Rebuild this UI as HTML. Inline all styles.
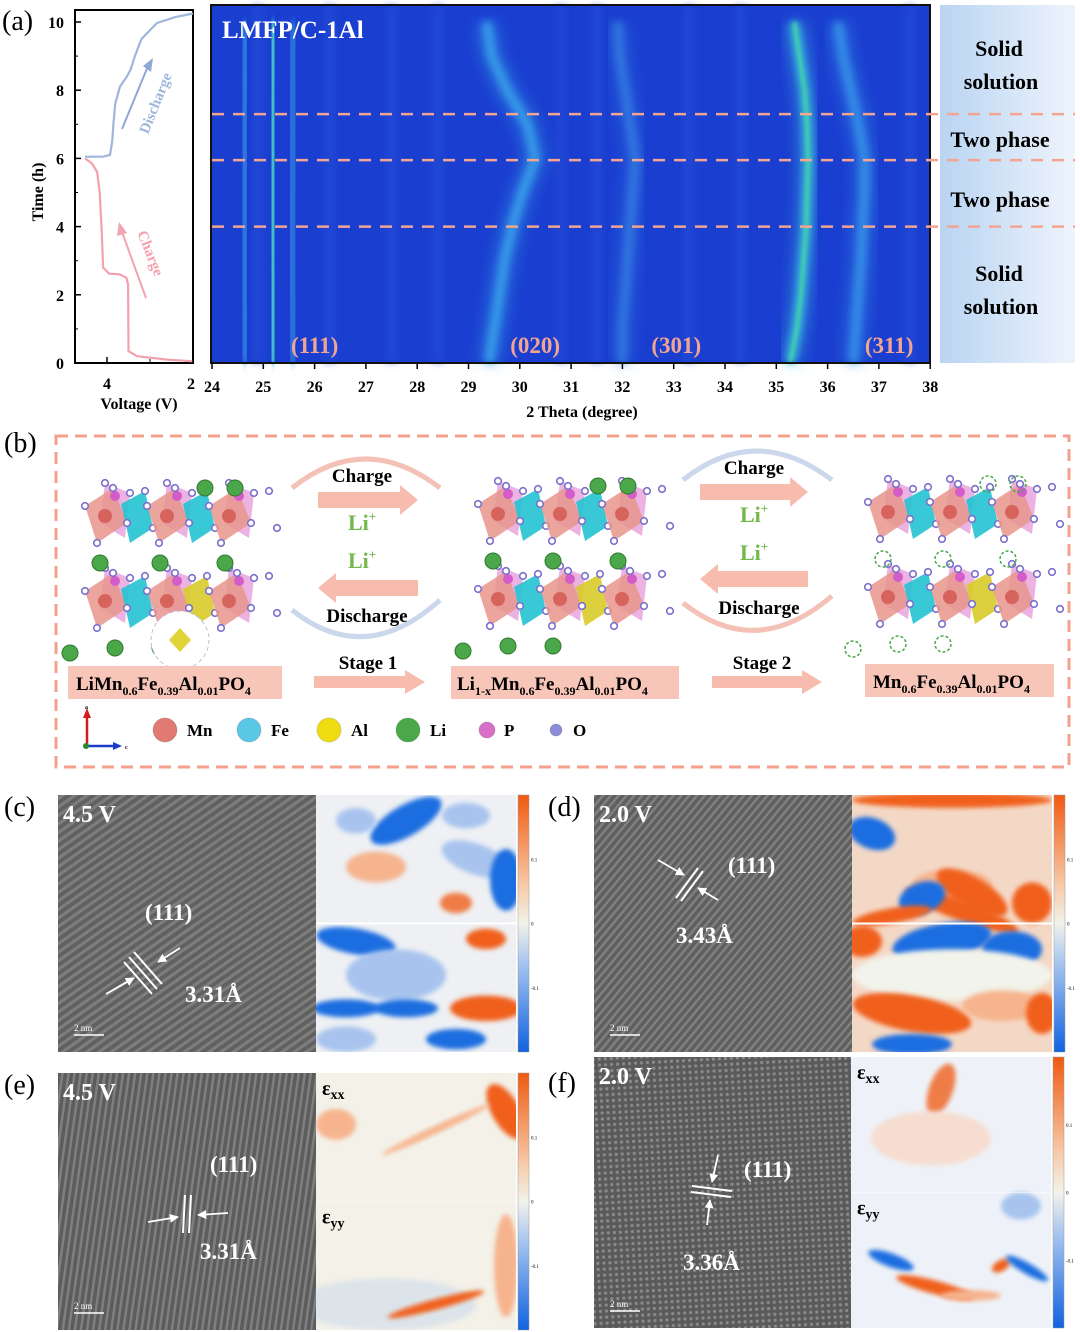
<!DOCTYPE html>
<html><head><meta charset="utf-8">
<style>
html,body{margin:0;padding:0;background:#fff;width:1080px;height:1332px;overflow:hidden}
svg{display:block}
text{font-family:"Liberation Serif",serif;font-weight:bold}
</style></head>
<body>
<svg id="fig" width="1080" height="1332" viewBox="0 0 1080 1332" xmlns="http://www.w3.org/2000/svg">
<defs>
  <filter id="blur3" x="-50%" y="-10%" width="200%" height="120%"><feGaussianBlur stdDeviation="3.5"/></filter>
  <filter id="blur8" x="-50%" y="-10%" width="200%" height="120%"><feGaussianBlur stdDeviation="7"/></filter>
  <filter id="blur1" x="-50%" y="-10%" width="200%" height="120%"><feGaussianBlur stdDeviation="1.5"/></filter>
  <filter id="blur2" x="-30%" y="-30%" width="160%" height="160%"><feGaussianBlur stdDeviation="2.5"/></filter>
  <marker id="ah" viewBox="0 0 10 10" refX="9" refY="5" markerWidth="5" markerHeight="5" orient="auto"><path d="M0,0 L10,5 L0,10 z" fill="#fff"/></marker>
  <linearGradient id="sideGrad" x1="0" x2="1" y1="0" y2="0">
    <stop offset="0" stop-color="#b9d4f2"/><stop offset="1" stop-color="#eef4fc"/>
  </linearGradient>
  <linearGradient id="cbar" x1="0" x2="0" y1="0" y2="1">
    <stop offset="0" stop-color="#f05a10"/><stop offset="0.35" stop-color="#f7c9a8"/><stop offset="0.5" stop-color="#f2f3ea"/><stop offset="0.65" stop-color="#a9c6ef"/><stop offset="1" stop-color="#1062e0"/>
  </linearGradient>
  <pattern id="lat1" width="7" height="7" patternUnits="userSpaceOnUse" patternTransform="rotate(55)">
    <rect width="7" height="7" fill="#616161"/><rect width="3" height="7" fill="#7e7e7e"/>
  </pattern>
  <pattern id="lat2" width="6" height="6" patternUnits="userSpaceOnUse" patternTransform="rotate(40)">
    <rect width="6" height="6" fill="#5f5f5f"/><rect width="2.5" height="6" fill="#808080"/>
  </pattern>
  <pattern id="lat3" width="6" height="6" patternUnits="userSpaceOnUse" patternTransform="rotate(8)">
    <rect width="6" height="6" fill="#5c5c5c"/><rect width="2.5" height="6" fill="#7f7f7f"/>
  </pattern>
  <pattern id="lat4" width="6" height="6" patternUnits="userSpaceOnUse" patternTransform="rotate(-3)">
    <rect width="6" height="6" fill="#5a5a5a"/><circle cx="3" cy="3" r="1.6" fill="#8a8a8a"/>
  </pattern>
</defs>

<!-- ===== Panel (a) ===== -->
<text x="2" y="30" font-size="28" style="font-weight:normal">(a)</text>
<g id="voltplot">
  <rect x="75" y="10" width="118" height="353" fill="#fff" stroke="#000" stroke-width="2"/>
</g>
<text x="43" y="192" font-size="16" transform="rotate(-90 43 192)" text-anchor="middle">Time (h)</text>
<text x="139" y="409" font-size="16" text-anchor="middle">Voltage (V)</text>

<g id="heat">
  <rect x="211" y="5" width="719" height="358" fill="#1a3ed0"/>
</g>
<rect x="211" y="5" width="719" height="358" fill="none" stroke="#111" stroke-width="2"/>
<text x="222" y="38" font-size="25" fill="#fff">LMFP/C-1Al</text>
<text x="582" y="417" font-size="16" text-anchor="middle">2 Theta (degree)</text>

<rect x="940" y="5" width="135" height="358" fill="url(#sideGrad)"/>
<g font-size="22" text-anchor="middle">
  <text x="999" y="56">Solid</text>
  <text x="1001" y="89">solution</text>
  <text x="1000" y="147">Two phase</text>
  <text x="1000" y="207">Two phase</text>
  <text x="999" y="281">Solid</text>
  <text x="1001" y="314">solution</text>
</g>

<!-- ===== Panel (b) ===== -->
<text x="4" y="452" font-size="28" style="font-weight:normal">(b)</text>
<rect x="56" y="436" width="1013" height="331" fill="none" stroke="#f4a08c" stroke-width="3" stroke-dasharray="12 7"/>
<g id="crystals"></g>

<g>
  <path d="M292,488 Q365,430 440,488" fill="none" stroke="#f1b1a4" stroke-width="5" opacity="0.8"/>
  <path d="M292,610 Q365,668 440,600" fill="none" stroke="#c7d3ea" stroke-width="5" opacity="0.9"/>
  <polygon points="318,492 400,492 400,485 418,500 400,515 400,508 318,508" fill="#f7bcae"/>
  <polygon points="418,580 336,580 336,573 318,588 336,603 336,596 418,596" fill="#f7bcae"/>
  <polygon points="314,676 405,676 405,670 425,682 405,694 405,688 314,688" fill="#f7bcae"/>
</g>
<g>
  <path d="M683,480 Q756,422 832,480" fill="none" stroke="#c7d3ea" stroke-width="5" opacity="0.9"/>
  <path d="M683,603 Q756,661 832,596" fill="none" stroke="#f1b1a4" stroke-width="5" opacity="0.8"/>
  <polygon points="700,484 790,484 790,477 808,492 790,507 790,500 700,500" fill="#f7bcae"/>
  <polygon points="808,571 718,571 718,564 700,579 718,594 718,587 808,587" fill="#f7bcae"/>
  <polygon points="712,676 802,676 802,670 822,682 802,694 802,688 712,688" fill="#f7bcae"/>
</g>
<g font-size="19" text-anchor="middle">
  <text x="362" y="482">Charge</text>
  <text x="367" y="622">Discharge</text>
  <text x="368" y="669">Stage 1</text>
  <text x="754" y="474">Charge</text>
  <text x="759" y="614">Discharge</text>
  <text x="762" y="669">Stage 2</text>
</g>
<g font-size="22" fill="#72b84a">
  <text x="348" y="530">Li<tspan font-size="13" dy="-9">+</tspan></text>
  <text x="348" y="568">Li<tspan font-size="13" dy="-9">+</tspan></text>
  <text x="740" y="522">Li<tspan font-size="13" dy="-9">+</tspan></text>
  <text x="740" y="560">Li<tspan font-size="13" dy="-9">+</tspan></text>
</g>
<g font-size="19">
  <rect x="68" y="666" width="214" height="33" fill="#f8c6b8"/>
  <text x="76" y="690">LiMn<tspan font-size="12" dy="5">0.6</tspan><tspan dy="-5">Fe</tspan><tspan font-size="12" dy="5">0.39</tspan><tspan dy="-5">Al</tspan><tspan font-size="12" dy="5">0.01</tspan><tspan dy="-5">PO</tspan><tspan font-size="12" dy="5">4</tspan></text>
  <rect x="451" y="666" width="228" height="33" fill="#f8c6b8"/>
  <text x="457" y="690">Li<tspan font-size="12" dy="5">1-x</tspan><tspan dy="-5">Mn</tspan><tspan font-size="12" dy="5">0.6</tspan><tspan dy="-5">Fe</tspan><tspan font-size="12" dy="5">0.39</tspan><tspan dy="-5">Al</tspan><tspan font-size="12" dy="5">0.01</tspan><tspan dy="-5">PO</tspan><tspan font-size="12" dy="5">4</tspan></text>
  <rect x="865" y="664" width="189" height="33" fill="#f8c6b8"/>
  <text x="873" y="688">Mn<tspan font-size="12" dy="5">0.6</tspan><tspan dy="-5">Fe</tspan><tspan font-size="12" dy="5">0.39</tspan><tspan dy="-5">Al</tspan><tspan font-size="12" dy="5">0.01</tspan><tspan dy="-5">PO</tspan><tspan font-size="12" dy="5">4</tspan></text>
</g>
<g>
  <line x1="87" y1="746" x2="87" y2="715" stroke="#d51b1b" stroke-width="2.5"/><polygon points="83,718 87,708 91,718" fill="#d51b1b"/>
  <line x1="87" y1="746" x2="115" y2="746" stroke="#1a3cc8" stroke-width="2.5"/><polygon points="113,742 122,746 113,750" fill="#1a3cc8"/>
  <circle cx="86" cy="746" r="3" fill="#2a8a2a"/>
  <text x="85" y="709" font-size="6">a</text><text x="125" y="749" font-size="6">c</text>
</g>
<g id="legend" font-size="17"></g>

<!-- ===== Panels c-f ===== -->
<g font-size="28">
  <text x="4" y="816" style="font-weight:normal">(c)</text>
  <text x="548" y="816" style="font-weight:normal">(d)</text>
  <text x="4" y="1094" style="font-weight:normal">(e)</text>
  <text x="548" y="1092" style="font-weight:normal">(f)</text>
</g>
<g id="tem"></g>
</svg>

<script>
const NS='http://www.w3.org/2000/svg';
function mk(tag,attrs,parent){const e=document.createElementNS(NS,tag);for(const k in attrs)e.setAttribute(k,attrs[k]);(parent||document.getElementById('fig')).appendChild(e);return e;}

/* ---------- Voltage-time data ---------- */
const chargeV=[2.0,2.6,3.3,3.5,3.51,3.55,3.7,3.95,4.09,4.12,4.17,4.23,4.35,4.51];
const chargeT=[0.05,0.1,0.2,0.35,2.3,2.5,2.6,2.62,2.8,3.8,5.0,5.6,5.85,6.0];
const dischargeV=[4.51,4.1,3.93,3.88,3.85,3.81,3.7,3.54,3.45,3.35,3.2,2.84,2.4,2.0];
const dischargeT=[6.05,6.05,6.1,6.5,7.0,7.6,8.1,8.4,8.6,9.0,9.5,9.97,10.15,10.25];
const timeTicks=[0,2,4,6,8,10];
const voltTicks=[4,2];
const vx=v=>107+(4-v)*43;
const ty=t=>363-t*34.1;

const vp=document.getElementById('voltplot');
function curve(V,T,color,name){
  const d=V.map((v,i)=>(i?'L':'M')+vx(v).toFixed(1)+','+ty(T[i]).toFixed(1)).join(' ');
  const p=mk('path',{d:d,fill:'none',stroke:color,'stroke-width':2.2,'stroke-linejoin':'round'},vp);
  
  
}
curve(chargeV,chargeT,'#f4a0ad','charge-curve');
curve(dischargeV,dischargeT,'#9fb6dc','discharge-curve');
timeTicks.forEach(t=>{
  mk('line',{x1:75,x2:81,y1:ty(t),y2:ty(t),stroke:'#000','stroke-width':1.5},vp);
  const tx=mk('text',{x:64,y:ty(t)+6,'font-size':16,'text-anchor':'end'},vp);
  tx.textContent=t;
  
  
});
[1,3,5,7,9].forEach(t=>mk('line',{x1:75,x2:78,y1:ty(t),y2:ty(t),stroke:'#000','stroke-width':1},vp));
voltTicks.forEach(v=>{
  mk('line',{x1:vx(v),x2:vx(v),y1:363,y2:357,stroke:'#000','stroke-width':1.5},vp);
  const tx=mk('text',{x:vx(v)-(v===2?2:0),y:389,'font-size':16,'text-anchor':'middle'},vp);
  tx.textContent=v;
  
  
});
[3].forEach(v=>mk('line',{x1:vx(v),x2:vx(v),y1:363,y2:359,stroke:'#000','stroke-width':1},vp));
mk('line',{x1:122,y1:129,x2:148,y2:66,stroke:'#8ea7d4','stroke-width':2},vp);
mk('polygon',{points:'143,66 153,58 151,72',fill:'#8ea7d4'},vp);
mk('line',{x1:146,y1:298,x2:122,y2:232,stroke:'#f2a3b0','stroke-width':2},vp);
mk('polygon',{points:'117,236 119,222 127,233',fill:'#f2a3b0'},vp);
let at=mk('text',{x:160,y:105,'font-size':15,fill:'#9fb6dc',transform:'rotate(-68 160 105)','text-anchor':'middle'},vp);at.textContent='Discharge';


at=mk('text',{x:146,y:255,'font-size':15,fill:'#f4a0ad',transform:'rotate(68 146 255)','text-anchor':'middle'},vp);at.textContent='Charge';



/* ---------- XRD heatmap data ---------- */
const peakTimes=[0,1,2,3,4,5,6,7,8,9,10];
const peak111a=[24.65,24.65,24.63,24.62,24.62,24.62,24.63,24.63,24.64,24.65,24.66];
const peak111=[25.2,25.2,25.2,25.19,25.18,25.18,25.18,25.18,25.19,25.2,25.2];
const peak111b=[25.58,25.58,25.56,25.55,25.55,25.56,25.56,25.57,25.57,25.58,25.6];
const peak020=[29.4,29.5,29.6,29.7,29.85,30.05,30.3,30.15,29.75,29.45,29.35];
const peak301=[32.0,32.0,32.05,32.1,32.15,32.2,32.25,32.15,32.05,31.95,31.9];
const peak311a=[35.27,35.4,35.48,35.53,35.58,35.6,35.62,35.6,35.55,35.45,35.35];
const peak311line=[35.65,35.65,35.65,35.65,35.65,35.65,35.65,35.65,35.65,35.65,35.65];
const peak311=[36.5,36.55,36.6,36.65,36.68,36.72,36.72,36.6,36.45,36.3,36.2];
const thetaTicks=[24,25,26,27,28,29,30,31,32,33,34,35,36,37,38];
const phaseBoundaries=[4.0,5.95,7.3];
const hx=th=>212+(th-24)*51.3;
const hy=t=>363-t*34.1;
const hm=document.getElementById('heat');
[24.9,26.3,27.5,28.4,30.8,31.5,33.3,34.3,37.6].forEach(th=>{
  mk('rect',{x:hx(th)-6,y:5,width:12,height:358,fill:'#2650da',opacity:0.5,filter:'url(#blur3)'},hm);
});
function peak(arr,color,w,op,name,core){
  const d=arr.map((v,i)=>(i?'L':'M')+hx(v).toFixed(1)+','+Math.max(5,hy(peakTimes[i])).toFixed(1)).join(' ');
  mk('path',{d:d,fill:'none',stroke:color,'stroke-width':w*2.2,opacity:op*0.45,filter:'url(#blur8)'},hm);
  const p=mk('path',{d:d,fill:'none',stroke:color,'stroke-width':w,opacity:op*0.8,filter:'url(#blur3)'},hm);
  
  
  if(core){mk('path',{d:d,fill:'none',stroke:core,'stroke-width':3,opacity:0.8,filter:'url(#blur1)'},hm);}
}
peak(peak111a,'#3a9ae8',9,0.7,'peak-111-shoulder-left');
peak(peak111,'#3ec4e6',9,1,'peak-111','#4ed8b0');
peak(peak111b,'#3a9ae8',9,0.6,'peak-111-shoulder-right');
peak(peak020,'#3aaaec',10,0.9,'peak-020');
peak(peak301,'#3a8ae6',10,0.7,'peak-301');
peak(peak311a,'#40c8dc',9,1,'peak-311-main','#44e090');
peak(peak311line,'#4fd0b8',4,0.9,'peak-reference-line','#58e08a');
peak(peak311,'#3a9eec',10,0.85,'peak-311');
phaseBoundaries.forEach(t=>{
  const l=mk('line',{x1:212,x2:1075,y1:hy(t),y2:hy(t),stroke:'#f4a592','stroke-width':2.5,'stroke-dasharray':'12 9'});
  
  
});
thetaTicks.forEach(th=>{
  mk('line',{x1:hx(th),x2:hx(th),y1:363,y2:369,stroke:'#000','stroke-width':1.5});
  const tx=mk('text',{x:hx(th),y:392,'font-size':16,'text-anchor':'middle'});
  tx.textContent=th;
  
  
});
const peakLabels=['(111)','(020)','(301)','(311)'];
const peakLabelPos=[26.0,30.3,33.05,37.2];
peakLabels.forEach((s,i)=>{
  const tx=mk('text',{x:hx(peakLabelPos[i]),y:353,'font-size':23,fill:'#f4a592','text-anchor':'middle'});
  tx.textContent=s;
  
  
});

/* ---------- crystal structures ---------- */
const cg=document.getElementById('crystals');
function crystal(ox,oy,withLi,vac,name){
  const g=mk('g',{transform:`translate(${ox},${oy})`},cg);
  
  
  for(let r=0;r<2;r++){
    const y0=r*85;
    for(let c=0;c<3;c++){
      const x0=c*62;
      mk('polygon',{points:`${x0+20},${y0+5} ${x0+45},${y0+15} ${x0+40},${y0+60} ${x0+15},${y0+45}`,fill:'#e69ad8',opacity:0.75},g);
      mk('polygon',{points:`${x0},${y0+28} ${x0+28},${y0+10} ${x0+42},${y0+45} ${x0+12},${y0+65}`,fill:'#e8958c',opacity:0.85},g);
      if(c<2) mk('polygon',{points:`${x0+36},${y0+26} ${x0+60},${y0+13} ${x0+68},${y0+50} ${x0+45},${y0+65}`,fill:(r==1&&c==1)?'#d9cb2a':'#23c2d2',opacity:0.9},g);
      mk('circle',{cx:x0+20,cy:y0+38,r:7,fill:'#d7645c'},g);
      mk('circle',{cx:x0+30,cy:y0+18,r:5,fill:'#d35cc8'},g);
      [[0,28],[28,10],[42,45],[12,65],[20,5],[45,15],[60,13],[68,50]].forEach(p=>mk('circle',{cx:x0+p[0],cy:y0+p[1],r:3.3,fill:'#fff',stroke:'#7a70cc','stroke-width':1.6},g));
    }
  }
  const li=[[-15,175],[30,170],[75,170],[120,10],[150,10],[15,85],[75,85],[140,85]];
  li.forEach(p=>{
    if(withLi) mk('circle',{cx:p[0],cy:p[1],r:8,fill:'#4aa84a',stroke:'#2f7a2f','stroke-width':1},g);
    else if(vac) mk('circle',{cx:p[0],cy:p[1],r:8,fill:'none',stroke:'#4aa84a','stroke-width':1.5,'stroke-dasharray':'3 2'},g);
  });
}
crystal(85,478,true,false,'crystal-lmfp');
crystal(478,476,true,false,'crystal-partially-delithiated');
crystal(868,474,false,true,'crystal-delithiated');
mk('circle',{cx:180,cy:640,r:29,fill:'#fff',stroke:'#b8c0de','stroke-width':1,'stroke-dasharray':'4 3'},cg);
mk('polygon',{points:'180,628 191,640 180,652 169,640',fill:'#e0d43a'},cg);

/* ---------- legend ---------- */
const lg=document.getElementById('legend');
const elements=['Mn','Fe','Al','Li','P','O'];
const elColors=['#e07a72','#5cc8e8','#f0dc10','#4aa84a','#d970c8','#8c8cd8'];
const elSizes=[12,12,12,12,8,6];
const elX=[165,249,329,408,487,556];
elements.forEach((e,i)=>{
  const c=mk('circle',{cx:elX[i],cy:730,r:elSizes[i],fill:elColors[i],stroke:'#0002'},lg);
  
  
  const t=mk('text',{x:elX[i]+(i<4?22:17),y:736},lg);
  t.textContent=e;
  
  
});

/* ---------- TEM + strain panels ---------- */
const tm=document.getElementById('tem');
function panel(o){
  const g=mk('g',{},tm);
  
  
  const img=mk('rect',{x:o.x,y:o.y,width:o.w,height:o.h,fill:`url(#${o.pat})`},g);
  
  
  let t=mk('text',{x:o.x+5,y:o.y+27,'font-size':24,fill:'#fff'},g);t.textContent=o.v;
  
  
  t=mk('text',{x:o.lx,y:o.ly,'font-size':23,fill:'#fff'},g);t.textContent='(111)';
  
  
  t=mk('text',{x:o.dx,y:o.dy,'font-size':23,fill:'#fff'},g);t.textContent=o.d;
  
  
  mk('line',{x1:o.x+16,x2:o.x+46,y1:o.y+o.h-17,y2:o.y+o.h-17,stroke:'#fff','stroke-width':1.5},g);
  t=mk('text',{x:o.x+16,y:o.y+o.h-21,'font-size':9,fill:'#fff',style:'font-weight:normal'},g);t.textContent='2 nm';
  o.marks.forEach(m=>mk('line',{x1:m[0],y1:m[1],x2:m[2],y2:m[3],stroke:'#fff','stroke-width':2},g));
  o.arrows.forEach(a=>{mk('line',{x1:a[0],y1:a[1],x2:a[2],y2:a[3],stroke:'#fff','stroke-width':1.8,'marker-end':'url(#ah)'},g);});
  const sx=o.x+o.w, sw=o.sw;
  const sm=mk('svg',{x:sx,y:o.y,width:sw,height:o.h,viewBox:`0 0 ${sw} ${o.h}`,overflow:'hidden'},g);
  
  
  mk('rect',{width:sw,height:o.h,fill:o.bg},sm);
  o.blobs.forEach(b=>mk('ellipse',{cx:b[0]*sw,cy:b[1]*o.h,rx:b[2]*sw,ry:b[3]*o.h,fill:b[4],transform:`rotate(${b[5]} ${b[0]*sw} ${b[1]*o.h})`,filter:'url(#blur2)',opacity:b[6]||1},sm));
  mk('line',{x1:0,x2:sw,y1:o.h/2,y2:o.h/2,stroke:'#fff','stroke-width':o.sep},sm);
  if(o.eps){
    let e=mk('text',{x:6,y:22,'font-size':20},sm);e.innerHTML='ε<tspan font-size="14" dy="4">xx</tspan>';
    e=mk('text',{x:6,y:o.h/2+22,'font-size':20},sm);e.innerHTML='ε<tspan font-size="14" dy="4">yy</tspan>';
  }
  const cb=mk('rect',{x:sx+sw+2,y:o.y,width:11,height:o.h,fill:'url(#cbar)',stroke:'#999','stroke-width':0.5},g);
  
  
  ['0.1','0','-0.1'].forEach((s,i)=>{const tt=mk('text',{x:sx+sw+15,y:o.y+o.h*(0.25+i*0.25)+2,'font-size':5,style:'font-weight:normal'},g);tt.textContent=s;});
}
const O='#f0601a',B='#1f6ee0',LO='#f6b48e',LB='#a8c4ee';
panel({name:'panel-c',x:58,y:795,w:258,h:257,sw:200,pat:'lat1',v:'4.5 V',lx:145,ly:920,dx:185,dy:1002,d:'3.31Å',
  marks:[[124,962,152,994],[129,957,157,989],[134,952,162,984]],arrows:[[106,994,134,978],[180,948,158,962]],bg:'#eef0f4',sep:2,
  blobs:[[0.45,0.1,0.2,0.06,B,-30],[0.2,0.1,0.1,0.05,LB,0],[0.75,0.08,0.12,0.05,LB,0],[0.3,0.28,0.15,0.06,LO,0],[0.8,0.25,0.18,0.06,LB,20],[0.7,0.42,0.08,0.04,O,0,0.8],[0.95,0.33,0.08,0.12,B,0],[0.2,0.57,0.2,0.05,B,10],[0.85,0.56,0.1,0.04,O,0],[0.4,0.7,0.25,0.1,LB,0],[0.15,0.83,0.17,0.035,B,0],[0.45,0.83,0.16,0.035,B,0],[0.85,0.83,0.18,0.05,O,0],[0.7,0.95,0.15,0.04,B,0],[0.15,0.95,0.15,0.05,LB,0]]});
panel({name:'panel-d',x:594,y:795,w:258,h:257,sw:200,pat:'lat2',v:'2.0 V',lx:728,ly:873,dx:676,dy:943,d:'3.43Å',
  marks:[[676,898,698,868],[681,901,703,871]],arrows:[[658,860,684,875],[718,900,698,888]],bg:'#f4d8c6',sep:2,
  blobs:[[0.5,0.02,0.5,0.03,O,0],[0.1,0.15,0.12,0.06,B,20],[0.5,0.35,0.2,0.06,LO,0],[0.55,0.45,0.3,0.04,O,20],[0.6,0.38,0.2,0.06,O,30],[0.35,0.4,0.12,0.06,B,-20],[0.2,0.47,0.2,0.03,O,-10],[0.9,0.42,0.1,0.08,O,0],[0.45,0.57,0.25,0.07,B,-10],[0.05,0.57,0.1,0.06,O,0],[0.8,0.6,0.15,0.07,B,0],[0.5,0.7,0.5,0.1,'#f2f3ea',0],[0.3,0.85,0.3,0.07,O,10],[0.75,0.82,0.2,0.06,LO,0],[0.95,0.85,0.08,0.08,O,0],[0.3,0.97,0.2,0.04,B,0]]});
panel({name:'panel-e',x:58,y:1073,w:258,h:257,sw:200,pat:'lat3',v:'4.5 V',lx:210,ly:1172,dx:200,dy:1259,d:'3.31Å',
  marks:[[183,1233,185,1195],[189,1233,191,1195]],arrows:[[148,1222,178,1217],[228,1213,198,1215]],bg:'#f3f1e8',sep:0.5,eps:true,
  blobs:[[0.95,0.15,0.07,0.12,O,-30],[0.6,0.22,0.3,0.015,LO,-25],[0.1,0.2,0.1,0.06,LO,0],[0.35,0.9,0.45,0.1,LB,0,0.3],[0.6,0.9,0.25,0.02,O,-15],[0.95,0.75,0.06,0.2,LO,0]]});
panel({name:'panel-f',x:594,y:1057,w:257,h:271,sw:200,pat:'lat4',v:'2.0 V',lx:744,ly:1177,dx:683,dy:1270,d:'3.36Å',
  marks:[[692,1186,732,1191],[691,1192,731,1197]],arrows:[[718,1155,712,1182],[707,1225,710,1200]],bg:'#eef2f8',sep:0.5,eps:true,
  blobs:[[0.45,0.12,0.06,0.1,O,20,0.8],[0.4,0.3,0.3,0.1,'#f6ddd0',0],[0.2,0.75,0.12,0.025,B,20],[0.42,0.85,0.2,0.025,O,15],[0.6,0.88,0.15,0.02,LO,0],[0.75,0.77,0.05,0.02,O,-30],[0.88,0.78,0.12,0.02,B,30],[0.85,0.55,0.1,0.05,LB,0]]});
</script>
</body></html>
